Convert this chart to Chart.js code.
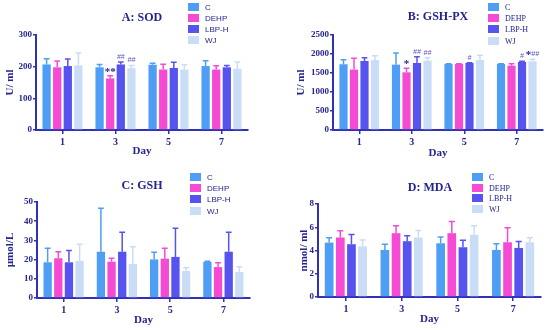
<!DOCTYPE html>
<html>
<head>
<meta charset="utf-8">
<script src="https://cdn.jsdelivr.net/npm/chart.js"></script>
<style>
  body { margin: 0; background: #fff; }
  .panel { position: absolute; width: 275px; height: 165px; }
</style>
</head>
<body>
<div class="panel" style="left:0;top:0"><canvas id="chartA" width="275" height="165"></canvas></div>
<div class="panel" style="left:275px;top:0"><canvas id="chartB" width="275" height="165"></canvas></div>
<div class="panel" style="left:0;top:165px"><canvas id="chartC" width="275" height="165"></canvas></div>
<div class="panel" style="left:275px;top:165px"><canvas id="chartD" width="275" height="165"></canvas></div>
<script>
// categories and groups
var days = ['1', '3', '5', '7'];
var groups = ['C', 'DEHP', 'LBP-H', 'WJ'];

// A: SOD (U/ ml)
var sodC = [207, 198, 206, 202];
var sodDEHP = [198, 163, 191, 191];
var sodLBP = [202, 207, 196, 198];
var sodWJ = [204, 195, 191, 193];
var sodC_sd = [18, 9, 5, 17];
var sodDEHP_sd = [20, 8, 17, 12];
var sodLBP_sd = [22, 8, 18, 6];
var sodWJ_sd = [39, 9, 15, 22];
var sodTicks = [0, 100, 200, 300];
var sodSig = [['DEHP', 1, '**'], ['LBP-H', 1, '##'], ['WJ', 1, '##']];

// B: GSH-PX (U/ ml)
var gpxC = [1730, 1720, 1737, 1737];
var gpxDEHP = [1590, 1518, 1737, 1693];
var gpxLBP = [1816, 1763, 1763, 1790];
var gpxWJ = [1842, 1825, 1842, 1807];
var gpxC_sd = [120, 305, 8, 8];
var gpxDEHP_sd = [300, 105, 8, 52];
var gpxLBP_sd = [88, 167, 9, 17];
var gpxWJ_sd = [114, 79, 123, 53];
var gpxTicks = [0, 500, 1000, 1500, 2000, 2500];
var gpxSig = [['DEHP', 1, '*'], ['LBP-H', 1, '##'], ['WJ', 1, '##'], ['LBP-H', 2, '#'], ['LBP-H', 3, '#'], ['WJ', 3, '*##']];

// C: GSH (µmol/L)
var gshC = [18.6, 24.1, 20.1, 18.8];
var gshDEHP = [20.7, 18.9, 20.5, 16.1];
var gshLBP = [18.6, 24.1, 21.4, 24.1];
var gshWJ = [19.3, 17.7, 14.1, 13.5];
var gshC_sd = [7.3, 22.6, 3.7, 0.4];
var gshDEHP_sd = [3.4, 1.8, 5.4, 2.3];
var gshLBP_sd = [6.2, 10.1, 14.9, 10.1];
var gshWJ_sd = [8.7, 9.0, 1.7, 2.8];
var gshTicks = [0, 10, 20, 30, 40, 50];
var gshSig = [];

// D: MDA (nmol/ ml)
var mdaC = [4.68, 4.05, 4.62, 4.05];
var mdaDEHP = [5.12, 5.49, 5.49, 4.71];
var mdaLBP = [4.54, 4.80, 4.28, 4.22];
var mdaWJ = [4.36, 5.12, 5.35, 4.71];
var mdaC_sd = [0.41, 0.49, 0.55, 0.52];
var mdaDEHP_sd = [0.57, 0.64, 1.01, 1.24];
var mdaLBP_sd = [0.84, 0.46, 0.60, 0.55];
var mdaWJ_sd = [0.55, 0.60, 0.78, 0.38];
var mdaTicks = [0, 2, 4, 6, 8];
var mdaSig = [];

var colors = ['#4f9ef6', '#f54bd4', '#5653ef', '#c9ddf6'];
var axisCol = '#3030b8';
var textCol = '#24248f';
var serif = '"Liberation Serif", "Times New Roman", serif';
var sans = '"Liberation Sans", Arial, sans-serif';

var errorBars = {
  id: 'errorBars',
  afterDatasetsDraw: function (chart) {
    var ctx = chart.ctx, y = chart.scales.y;
    chart.data.datasets.forEach(function (ds, i) {
      chart.getDatasetMeta(i).data.forEach(function (bar, j) {
        var top = y.getPixelForValue(ds.data[j] + ds.sd[j]);
        var cap = bar.width * 0.35;
        ctx.save();
        ctx.strokeStyle = ds.backgroundColor;
        ctx.lineWidth = 1.5;
        ctx.beginPath();
        ctx.moveTo(bar.x, bar.y);
        ctx.lineTo(bar.x, top);
        ctx.moveTo(bar.x - cap, top);
        ctx.lineTo(bar.x + cap, top);
        ctx.stroke();
        ctx.restore();
      });
    });
  }
};

var extras = {
  id: 'extras',
  afterDraw: function (chart) {
    var ctx = chart.ctx, o = chart.options.plugins.extras, y = chart.scales.y;
    ctx.save();
    ctx.fillStyle = textCol;
    // title
    ctx.font = 'bold 12px ' + serif;
    ctx.textAlign = 'center';
    ctx.textBaseline = 'middle';
    ctx.fillText(o.title, o.titleX, o.titleY);
    // legend
    ctx.textAlign = 'left';
    ctx.font = o.legendFont;
    chart.data.datasets.forEach(function (ds, i) {
      var ry = o.legendY[i];
      ctx.fillStyle = ds.backgroundColor;
      ctx.fillRect(o.legendX, ry - 4, 11, 8);
      ctx.fillStyle = textCol;
      ctx.fillText(ds.label, o.legendX + 17, ry + 0.5);
    });
    // significance marks
    o.sig.forEach(function (s) {
      var di = groups.indexOf(s[0]);
      var ds = chart.data.datasets[di];
      var bar = chart.getDatasetMeta(di).data[s[1]];
      var top = y.getPixelForValue(ds.data[s[1]] + ds.sd[s[1]]);
      var parts = s[2].match(/\*+|#+/g);
      var w = 0;
      parts.forEach(function (p) {
        ctx.font = p[0] === '*' ? 'bold 11px ' + serif : 'italic 7px ' + sans;
        w += ctx.measureText(p).width;
      });
      var x = bar.x - w / 2;
      parts.forEach(function (p) {
        ctx.textBaseline = 'alphabetic';
        if (p[0] === '*') {
          ctx.font = 'bold 11px ' + serif;
          ctx.fillStyle = textCol;
          ctx.fillText(p, x, top - 1);
        } else {
          ctx.font = 'italic 7px ' + sans;
          ctx.fillStyle = '#5a55c8';
          ctx.fillText(p, x, top - 3);
        }
        x += ctx.measureText(p).width;
      });
    });
    ctx.restore();
  }
};

function makePanel(id, p) {
  var datasets = groups.map(function (g, i) {
    return {
      label: g,
      data: p.means[i],
      sd: p.sds[i],
      backgroundColor: colors[i],
      borderWidth: 0,
      categoryPercentage: 0.8,
      barPercentage: 0.78
    };
  });
  return new Chart(document.getElementById(id), {
    type: 'bar',
    data: { labels: days, datasets: datasets },
    plugins: [errorBars, extras],
    options: {
      responsive: false,
      devicePixelRatio: 1,
      animation: false,
      layout: { padding: { left: p.padLeft, top: p.top, right: 275 - p.right, bottom: 0 } },
      plugins: {
        legend: { display: false },
        tooltip: { enabled: false },
        extras: {
          title: p.title, titleX: p.titleX, titleY: p.titleY,
          legendX: p.legendX, legendY: p.legendY, legendFont: p.legendFont,
          sig: p.sig
        }
      },
      scales: {
        x: {
          offset: true,
          grid: { offset: false, drawOnChartArea: false, tickLength: 4, color: axisCol, lineWidth: 1.5 },
          border: { color: axisCol, width: 2 },
          ticks: { color: textCol, padding: 2, font: { family: serif, weight: 'bold', size: 10 } },
          title: {
            display: true, text: 'Day', color: textCol,
            font: { family: serif, weight: 'bold', size: 11 },
            padding: { top: 0, bottom: p.dayPad }
          },
          afterFit: function (s) { s.height = 165 - p.bottom; }
        },
        y: {
          min: p.ticks[0],
          max: p.ticks[p.ticks.length - 1],
          afterBuildTicks: function (s) { s.ticks = p.ticks.map(function (v) { return { value: v }; }); },
          grid: { drawOnChartArea: false, tickLength: 3, color: axisCol, lineWidth: 1.5 },
          border: { color: axisCol, width: 2 },
          ticks: {
            color: textCol, padding: 1, font: { family: serif, weight: 'bold', size: 9 },
            callback: function (v) { return String(v); }
          },
          title: {
            display: true, text: p.yLabel, color: textCol,
            font: { family: serif, weight: 'bold', size: 11 },
            padding: { top: 4, bottom: 0 }
          },
          afterFit: function (s) { s.width = p.left - p.padLeft; }
        }
      }
    }
  });
}

makePanel('chartA', {
  title: 'A: SOD', titleX: 142, titleY: 18, yLabel: 'U/ ml',
  means: [sodC, sodDEHP, sodLBP, sodWJ], sds: [sodC_sd, sodDEHP_sd, sodLBP_sd, sodWJ_sd],
  ticks: sodTicks, sig: sodSig,
  padLeft: 0, left: 36, top: 35, bottom: 130, right: 248, dayPad: 7,
  legendX: 188, legendY: [7, 18, 29, 40], legendFont: '8px ' + sans
});
makePanel('chartB', {
  title: 'B: GSH-PX', titleX: 163, titleY: 17, yLabel: 'U/ ml',
  means: [gpxC, gpxDEHP, gpxLBP, gpxWJ], sds: [gpxC_sd, gpxDEHP_sd, gpxLBP_sd, gpxWJ_sd],
  ticks: gpxTicks, sig: gpxSig,
  padLeft: 16, left: 58, top: 35, bottom: 130, right: 268, dayPad: 5,
  legendX: 213, legendY: [7, 18, 29, 41], legendFont: '8px ' + serif
});
makePanel('chartC', {
  title: 'C: GSH', titleX: 142, titleY: 21, yLabel: 'µmol/L',
  means: [gshC, gshDEHP, gshLBP, gshWJ], sds: [gshC_sd, gshDEHP_sd, gshLBP_sd, gshWJ_sd],
  ticks: gshTicks, sig: gshSig,
  padLeft: 0, left: 37, top: 37, bottom: 133, right: 250, dayPad: 3,
  legendX: 190, legendY: [12, 23, 34, 46], legendFont: '8px ' + sans
});
makePanel('chartD', {
  title: 'D: MDA', titleX: 155, titleY: 23, yLabel: 'nmol/ ml',
  means: [mdaC, mdaDEHP, mdaLBP, mdaWJ], sds: [mdaC_sd, mdaDEHP_sd, mdaLBP_sd, mdaWJ_sd],
  ticks: mdaTicks, sig: mdaSig,
  padLeft: 19, left: 43, top: 39, bottom: 132, right: 266, dayPad: 4,
  legendX: 197, legendY: [12, 23, 33, 44], legendFont: '8px ' + serif
});
</script>
</body>
</html>
